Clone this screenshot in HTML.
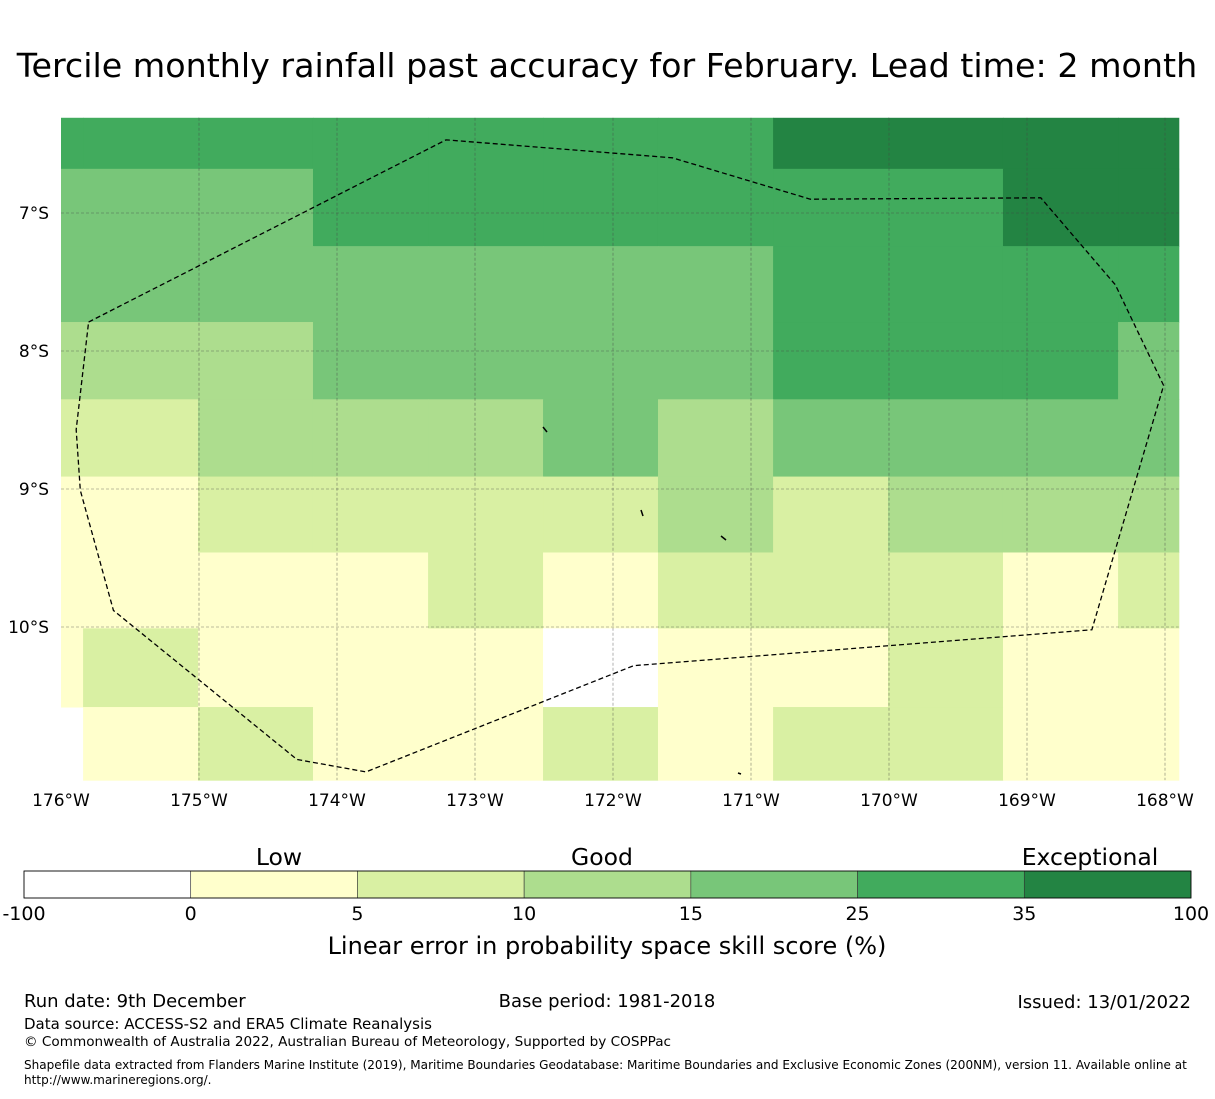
<!DOCTYPE html>
<html><head><meta charset="utf-8"><style>
body{margin:0;background:#fff;width:1215px;height:1095px;overflow:hidden;font-family:"DejaVu Sans","Liberation Sans",sans-serif}
</style></head><body>
<svg id="s" width="1215" height="1095" xmlns="http://www.w3.org/2000/svg" font-family="DejaVu Sans, Liberation Sans, sans-serif">
<text x="607" y="77" font-size="33.3" text-anchor="middle">Tercile monthly rainfall past accuracy for February. Lead time: 2 month</text>
<g id="cells"></g>
<g id="grid"></g>
<g id="eez"></g>
<g id="ax"></g>
<g id="cb"></g>
<text x="607" y="954" font-size="24" text-anchor="middle">Linear error in probability space skill score (%)</text>
<g font-size="18">
<text x="24" y="1007">Run date: 9th December</text>
<text x="607" y="1007" text-anchor="middle">Base period: 1981-2018</text>
<text x="1191" y="1008" text-anchor="end">Issued: 13/01/2022</text>
</g>
<text x="24" y="1029" font-size="15">Data source: ACCESS-S2 and ERA5 Climate Reanalysis</text>
<text x="24" y="1046" font-size="13.6">© Commonwealth of Australia 2022, Australian Bureau of Meteorology, Supported by COSPPac</text>
<text x="24" y="1069" font-size="12.05">Shapefile data extracted from Flanders Marine Institute (2019), Maritime Boundaries Geodatabase: Maritime Boundaries and Exclusive Economic Zones (200NM), version 11. Available online at</text>
<text x="24" y="1084" font-size="12.05">http://www.marineregions.org/.</text>
</svg>
<script>
const lonEdges=[-176,-175.84,-175.007,-174.174,-173.34,-172.507,-171.674,-170.84,-170.007,-169.174,-168.34,-167.9];
const latEdges=[-6.31,-6.68,-7.24,-7.79,-8.35,-8.91,-9.46,-10.01,-10.58,-11.11];
const levels=[
[5,5,5,5,5,5,5,6,6,6,6],
[4,4,4,5,5,5,5,5,5,6,6],
[4,4,4,4,4,4,4,5,5,5,5],
[3,3,3,4,4,4,4,5,5,5,4],
[2,2,3,3,3,4,3,4,4,4,4],
[1,1,2,2,2,2,3,2,3,3,3],
[1,1,1,1,2,1,2,2,2,1,2],
[1,2,1,1,1,0,1,1,2,1,1],
[-1,1,2,1,1,2,1,2,2,1,1]];
const colors=['#ffffff','#ffffcc','#d9f0a3','#addd8e','#78c679','#41ab5d','#238443'];
const cbTicks=['-100','0','5','10','15','25','35','100'];
const lonTicks=[-176,-175,-174,-173,-172,-171,-170,-169,-168];
const latTicks=[-7,-8,-9,-10];
const eezLon=[-175.80,-173.21,-171.57,-170.57,-168.90,-168.36,-168.01,-168.53,-171.85,-173.79,-174.29,-175.62,-175.86,-175.89,-175.80];
const eezLat=[-7.79,-6.47,-6.60,-6.90,-6.89,-7.52,-8.25,-10.02,-10.28,-11.05,-10.96,-9.88,-9.01,-8.57,-7.79];
const X=lon=>61+(lon+176)*138, Y=lat=>213+(-7-lat)*138;
const NS='http://www.w3.org/2000/svg';
function mk(t,a,p){const e=document.createElementNS(NS,t);for(const k in a)e.setAttribute(k,a[k]);p.appendChild(e);return e;}
const cg=document.getElementById('cells');
levels.forEach((row,r)=>row.forEach((v,c)=>{if(v<0)return;
const x0=X(lonEdges[c]),x1=X(lonEdges[c+1]),y0=Y(latEdges[r]),y1=Y(latEdges[r+1]);
const e=mk('rect',{x:x0,y:y0,width:x1-x0+0.5,height:y1-y0+0.5,fill:colors[v]},cg);

}));
const gg=document.getElementById('grid'),ag=document.getElementById('ax');
const mapTop=Y(latEdges[0]),mapBot=Y(latEdges[latEdges.length-1]),mapLeft=X(-176),mapRight=X(lonEdges[lonEdges.length-1]);
lonTicks.forEach(l=>{const x=X(l);
if(x>mapLeft&&x<mapRight){const e=mk('line',{x1:x,x2:x,y1:mapTop,y2:mapBot,stroke:'#444','stroke-width':0.6,'stroke-dasharray':'3,2','stroke-opacity':0.7},gg);}
const t=mk('text',{x:x,y:806,'font-size':17,'text-anchor':'middle'},ag);t.textContent=(-l)+'°W';
});
latTicks.forEach(l=>{const y=Y(l);
const e=mk('line',{x1:mapLeft,x2:mapRight,y1:y,y2:y,stroke:'#444','stroke-width':0.6,'stroke-dasharray':'3,2','stroke-opacity':0.7},gg);
const t=mk('text',{x:49,y:y+6,'font-size':17,'text-anchor':'end'},ag);t.textContent=(-l)+'°S';
});
const eg=document.getElementById('eez');
const pts=eezLon.map((l,i)=>X(l)+','+Y(eezLat[i])).join(' ');
const pl=mk('polyline',{points:pts,fill:'none',stroke:'#000','stroke-width':1.3,'stroke-dasharray':'5,3'},eg);

[[543,427,547,432],[641,510,643,516],[721,536,726,540],[738,773,741,774]].forEach(p=>{const e=mk('line',{x1:p[0],y1:p[1],x2:p[2],y2:p[3],stroke:'#000','stroke-width':1.5},eg);});
const cb=document.getElementById('cb');const w=(1191-24)/colors.length;
colors.forEach((c,i)=>{const e=mk('rect',{x:24+i*w,y:871,width:w,height:27,fill:c,stroke:'#333','stroke-width':0.6},cb);});
mk('rect',{x:24,y:871,width:1167,height:27,fill:'none',stroke:'#000','stroke-width':0.8},cb);
cbTicks.forEach((t,i)=>{const e=mk('text',{x:24+i*w,y:920,'font-size':19,'text-anchor':'middle'},cb);e.textContent=t;});
[['Low',279],['Good',602],['Exceptional',1090]].forEach(a=>{const e=mk('text',{x:a[1],y:865,'font-size':23.5,'text-anchor':'middle'},cb);e.textContent=a[0];});
</script>
</body></html>
